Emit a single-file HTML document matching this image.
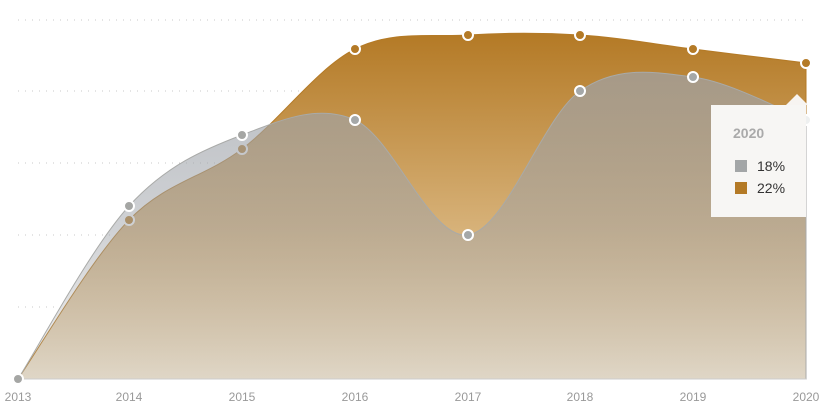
<!DOCTYPE html>
<html><head><meta charset="utf-8"><style>
html,body{margin:0;padding:0;background:#fff;width:825px;height:412px;overflow:hidden}
svg{display:block;font-family:"Liberation Sans",sans-serif}
</style></head><body>
<svg width="825" height="412" viewBox="0 0 825 412">
<defs>
<linearGradient id="go" x1="0" y1="35" x2="0" y2="379" gradientUnits="userSpaceOnUse">
<stop offset="0" stop-color="#b47a26"/><stop offset="0.6" stop-color="#d9b57e"/><stop offset="1" stop-color="#ebe0cc"/></linearGradient>
<linearGradient id="gg" x1="0" y1="77" x2="0" y2="379" gradientUnits="userSpaceOnUse">
<stop offset="0" stop-color="#9ea3aa" stop-opacity="0.7"/><stop offset="0.5" stop-color="#a0a4aa" stop-opacity="0.5"/><stop offset="1" stop-color="#b0b0b0" stop-opacity="0.2"/></linearGradient>
</defs>
<g stroke="#c8c8c8" stroke-width="1" stroke-dasharray="1,6">
<line x1="18" y1="20" x2="806" y2="20"/><line x1="18" y1="91" x2="806" y2="91"/>
<line x1="18" y1="163" x2="806" y2="163"/><line x1="18" y1="235" x2="806" y2="235"/>
<line x1="18" y1="307" x2="806" y2="307"/></g>
<path d="M18,379 C36.5,352.5 91.7,258.3 129,220 C166.3,181.7 204.3,177.5 242,149 C279.7,120.5 317.3,68 355,49 C392.7,30 430.5,37.3 468,35 C505.5,32.7 542.5,32.7 580,35 C617.5,37.3 655.3,44.3 693,49 C730.7,53.7 787.2,60.7 806,63 L806,379 Z" fill="url(#go)" stroke="#b47a26" stroke-width="1"/>
<g stroke="#fff" stroke-width="2">
<circle cx="129" cy="220" r="5" fill="#b47a26"/><circle cx="242" cy="149" r="5" fill="#b47a26"/>
</g>
<path d="M18,379 C36.5,350.2 91.7,246.7 129,206 C166.3,165.3 204.3,149.3 242,135 C279.7,120.7 317.3,103.3 355,120 C392.7,136.7 430.5,239.8 468,235 C505.5,230.2 542.5,117.3 580,91 C617.5,64.7 655.3,72.2 693,77 C730.7,81.8 787.2,112.8 806,120 L806,379 Z" fill="url(#gg)" stroke="#a9aaa8" stroke-width="1"/>
<line x1="18" y1="379" x2="806" y2="379" stroke="#ccc"/>
<g stroke="#fff" stroke-width="2">
<circle cx="355" cy="49" r="5" fill="#b47a26"/><circle cx="468" cy="35" r="5" fill="#b47a26"/>
<circle cx="580" cy="35" r="5" fill="#b47a26"/><circle cx="693" cy="49" r="5" fill="#b47a26"/>
<circle cx="806" cy="63" r="5" fill="#b47a26"/>
<circle cx="18" cy="379" r="5" fill="#a5a6a4"/><circle cx="129" cy="206" r="5" fill="#a5a6a4"/>
<circle cx="242" cy="135" r="5" fill="#a5a6a4"/><circle cx="355" cy="120" r="5" fill="#a5a8a8"/>
<circle cx="468" cy="235" r="5" fill="#a5a8a8"/><circle cx="580" cy="91" r="5" fill="#a5a8a8"/>
<circle cx="693" cy="77" r="5" fill="#a5a8a8"/><circle cx="806" cy="120" r="5" fill="#eef0f0"/>
</g>
<g fill="#999" font-size="12" text-anchor="middle">
<text x="18" y="401">2013</text><text x="129" y="401">2014</text><text x="242" y="401">2015</text>
<text x="355" y="401">2016</text><text x="468" y="401">2017</text><text x="580" y="401">2018</text>
<text x="693" y="401">2019</text><text x="806" y="401">2020</text></g>
<polygon points="786,105 797,94 808,105" fill="#f7f4f1"/>
<rect x="711" y="105" width="95" height="112" fill="#f7f6f4"/>
<text x="733" y="138" font-size="14" font-weight="bold" fill="#aaa">2020</text>
<rect x="735" y="160" width="12" height="12" fill="#a3a6a7"/>
<rect x="735" y="182" width="12" height="12" fill="#b47a26"/>
<text x="757" y="171" font-size="14" fill="#333">18%</text>
<text x="757" y="193" font-size="14" fill="#333">22%</text>
</svg>
</body></html>
